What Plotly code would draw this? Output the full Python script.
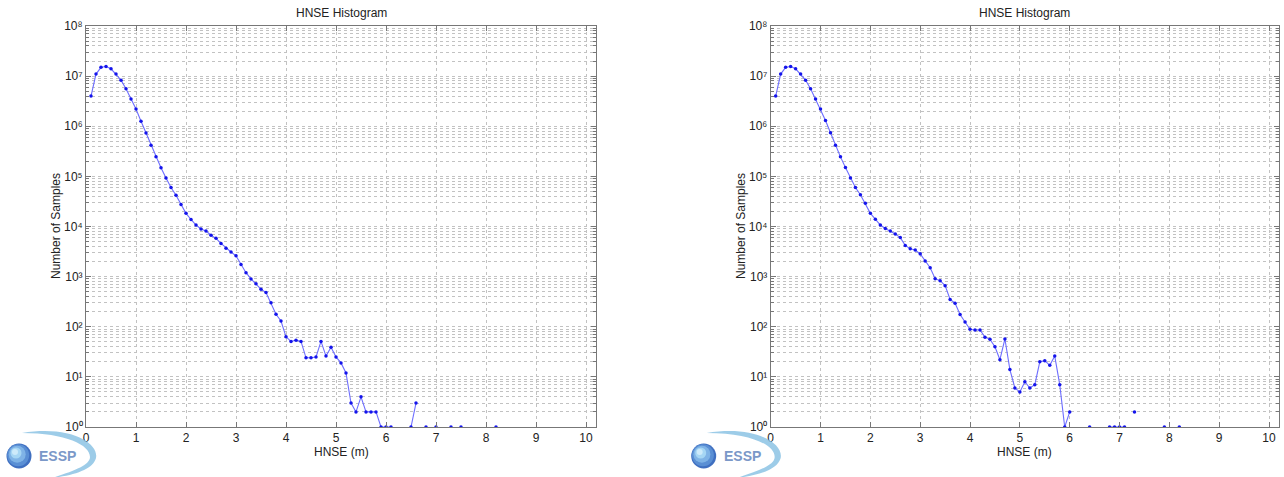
import plotly.graph_objects as go

# ---------------- data ----------------
bins = [0.1, 0.2, 0.3, 0.4, 0.5, 0.6, 0.7, 0.8, 0.9, 1.0,
        1.1, 1.2, 1.3, 1.4, 1.5, 1.6, 1.7, 1.8, 1.9, 2.0,
        2.1, 2.2, 2.3, 2.4, 2.5, 2.6, 2.7, 2.8, 2.9, 3.0,
        3.1, 3.2, 3.3, 3.4, 3.5, 3.6, 3.7, 3.8, 3.9, 4.0,
        4.1, 4.2, 4.3, 4.4, 4.5, 4.6, 4.7, 4.8, 4.9, 5.0,
        5.1, 5.2, 5.3, 5.4, 5.5, 5.6, 5.7, 5.8, 5.9, 6.0,
        6.1, 6.2, 6.3, 6.4, 6.5, 6.6, 6.7, 6.8, 6.9, 7.0,
        7.1, 7.2, 7.3, 7.4, 7.5, 7.6, 7.7, 7.8, 7.9, 8.0,
        8.1, 8.2]

counts_left = [4.0e6, 1.1e7, 1.5e7, 1.55e7, 1.4e7, 1.1e7, 8.3e6, 5.6e6, 3.5e6, 2.2e6,
               1.26e6, 7.3e5, 4.2e5, 2.45e5, 1.48e5, 9.3e4, 6.0e4, 4.2e4, 2.75e4, 1.83e4,
               1.38e4, 1.07e4, 8.9e3, 8.1e3, 6.7e3, 5.8e3, 4.6e3, 3.7e3, 3.1e3, 2.6e3,
               1.75e3, 1.2e3, 900, 720, 560, 480, 300, 177, 130, 63,
               51, 54, 51, 24, 24, 25, 51, 26, 39, 25,
               19, 12, 3, 2, 4, 2, 2, 2, 1, 1,
               1, 0, 0, 0, 1, 3, 0, 1, 0, 1,
               0, 0, 1, 0, 1, 0, 0, 0, 0, 0,
               0, 1]

counts_right = [4.0e6, 1.1e7, 1.5e7, 1.55e7, 1.4e7, 1.1e7, 8.3e6, 5.6e6, 3.5e6, 2.2e6,
                1.3e6, 7.4e5, 4.2e5, 2.45e5, 1.5e5, 9.3e4, 6.0e4, 4.3e4, 2.9e4, 1.83e4,
                1.4e4, 1.07e4, 9.1e3, 8.1e3, 7.1e3, 6.0e3, 4.2e3, 3.6e3, 3.4e3, 2.85e3,
                2.05e3, 1.5e3, 910, 830, 660, 350, 295, 175, 124, 89,
                86, 86, 62, 56, 40, 22, 57, 14, 6, 5,
                8, 6, 7, 20, 21, 17, 26, 7, 1, 2,
                0, 0, 0, 1, 0, 0, 0, 1, 1, 1,
                1, 0, 2, 0, 0, 0, 0, 0, 1, 0,
                0, 1]

x_ticks = [0, 1, 2, 3, 4, 5, 6, 7, 8, 9, 10]
y_major = [1e0, 1e1, 1e2, 1e3, 1e4, 1e5, 1e6, 1e7, 1e8]
y_major_text = ["10⁰", "10¹", "10²", "10³", "10⁴", "10⁵", "10⁶", "10⁷", "10⁸"]
y_minor = [m * 10 ** k for k in range(8) for m in range(2, 10)]

title_text = "HNSE Histogram"
xlabel_text = "HNSE (m)"
ylabel_text = "Number of Samples"

# ---------------- figure ----------------
W, H = 1284, 477
FONT = "Liberation Sans, Arial, Helvetica, sans-serif"

def px(x):
    return x / W

def py(y):
    return 1 - y / H

left_dom = [px(86), px(596)]
right_dom = [px(770.7), px(1279)]
y_dom = [py(427), py(26)]

def clean(v):
    return [c if c > 0 else None for c in v]

fig = go.Figure()
for vals, xa, ya in [(counts_left, "x", "y"), (counts_right, "x2", "y2")]:
    fig.add_trace(go.Scatter(
        x=bins, y=clean(vals), xaxis=xa, yaxis=ya, mode="lines+markers",
        line=dict(color="rgb(110,110,255)", width=1.1),
        marker=dict(color="rgb(20,20,235)", size=3.5),
        showlegend=False, hoverinfo="x+y"))

grid_col = "#c2c2c2"
axis_col = "#777777"
xa_common = dict(range=[0, 10.2], tickvals=x_ticks, showgrid=True, gridcolor=grid_col,
                 griddash="dot", gridwidth=1, zeroline=False, showline=True,
                 linecolor=axis_col, linewidth=1, mirror="allticks", ticks="inside",
                 ticklen=5, tickcolor=axis_col, automargin=False,
                 tickfont=dict(family=FONT, size=12, color="#222"))
ya_common = dict(type="log", range=[0, 8], tickvals=y_major, ticktext=y_major_text,
                 showgrid=True, gridcolor=grid_col, griddash="dot", gridwidth=1,
                 zeroline=False, showline=True, linecolor=axis_col, linewidth=1,
                 mirror="allticks", ticks="inside", ticklen=5, tickcolor=axis_col,
                 automargin=False,
                 tickfont=dict(family=FONT, size=12, color="#222"),
                 minor=dict(tickvals=y_minor, showgrid=True, gridcolor=grid_col,
                            griddash="dot", gridwidth=1, ticks="inside", ticklen=3,
                            tickcolor=axis_col))

fig.update_layout(
    width=W, height=H, margin=dict(l=0, r=0, t=0, b=0, autoexpand=False),
    paper_bgcolor="white", plot_bgcolor="white",
    xaxis=dict(domain=left_dom, anchor="y", **xa_common),
    yaxis=dict(domain=y_dom, anchor="x", **ya_common),
    xaxis2=dict(domain=right_dom, anchor="y2", **xa_common),
    yaxis2=dict(domain=y_dom, anchor="x2", **ya_common),
)

annos = []
for dom, ylab_x in [(left_dom, 56), (right_dom, 741)]:
    cx = (dom[0] + dom[1]) / 2
    annos.append(dict(text=title_text, x=cx, y=py(13), xref="paper", yref="paper",
                      showarrow=False, xanchor="center", yanchor="middle",
                      font=dict(family=FONT, size=12, color="#222")))
    annos.append(dict(text=xlabel_text, x=cx, y=py(452), xref="paper", yref="paper",
                      showarrow=False, xanchor="center", yanchor="middle",
                      font=dict(family=FONT, size=12, color="#222")))
    annos.append(dict(text=ylabel_text, x=px(ylab_x), y=py(226), xref="paper", yref="paper",
                      showarrow=False, xanchor="center", yanchor="middle", textangle=-90,
                      font=dict(family=FONT, size=12, color="#222")))

# ESSP logos
shapes = []
for off in [0, 684.7]:
    def P(xp, yp):
        return "%.5f,%.5f" % (px(xp + off), py(yp))
    path = ("M " + P(22, 433) + " C " + P(70, 425) + " " + P(99, 443) + " " + P(96, 458) +
            " C " + P(93, 469) + " " + P(76, 475) + " " + P(52, 478) +
            " C " + P(74, 471) + " " + P(90, 465) + " " + P(90, 457) +
            " C " + P(90, 445) + " " + P(66, 433) + " " + P(22, 433) + " Z")
    shapes.append(dict(type="path", path=path, xref="paper", yref="paper",
                       fillcolor="rgba(140,195,228,0.85)", line=dict(width=0)))
    for r, col, dx, dy in [(12.5, "#3f6fc0", 0, 0), (11, "#5a8fd4", -0.8, -0.8),
                           (8.5, "#7fb3e6", -1.8, -1.8), (5.5, "#a6d6f4", -3, -3),
                           (3, "#cdeafa", -4, -4)]:
        cx, cy = 19 + off + dx, 456 + dy
        shapes.append(dict(type="circle", xref="paper", yref="paper",
                           x0=px(cx - r), x1=px(cx + r), y0=py(cy + r), y1=py(cy - r),
                           fillcolor=col, line=dict(width=0)))
    annos.append(dict(text="<b>ESSP</b>", x=px(57.5 + off), y=py(456), xref="paper",
                      yref="paper", showarrow=False, xanchor="center", yanchor="middle",
                      font=dict(family=FONT, size=14, color="#7b98c8")))

fig.update_layout(annotations=annos, shapes=shapes)
fig.write_html("out.html", config={"displayModeBar": False},
               post_script="document.body.style.margin='0px';document.body.style.overflow='hidden';")
